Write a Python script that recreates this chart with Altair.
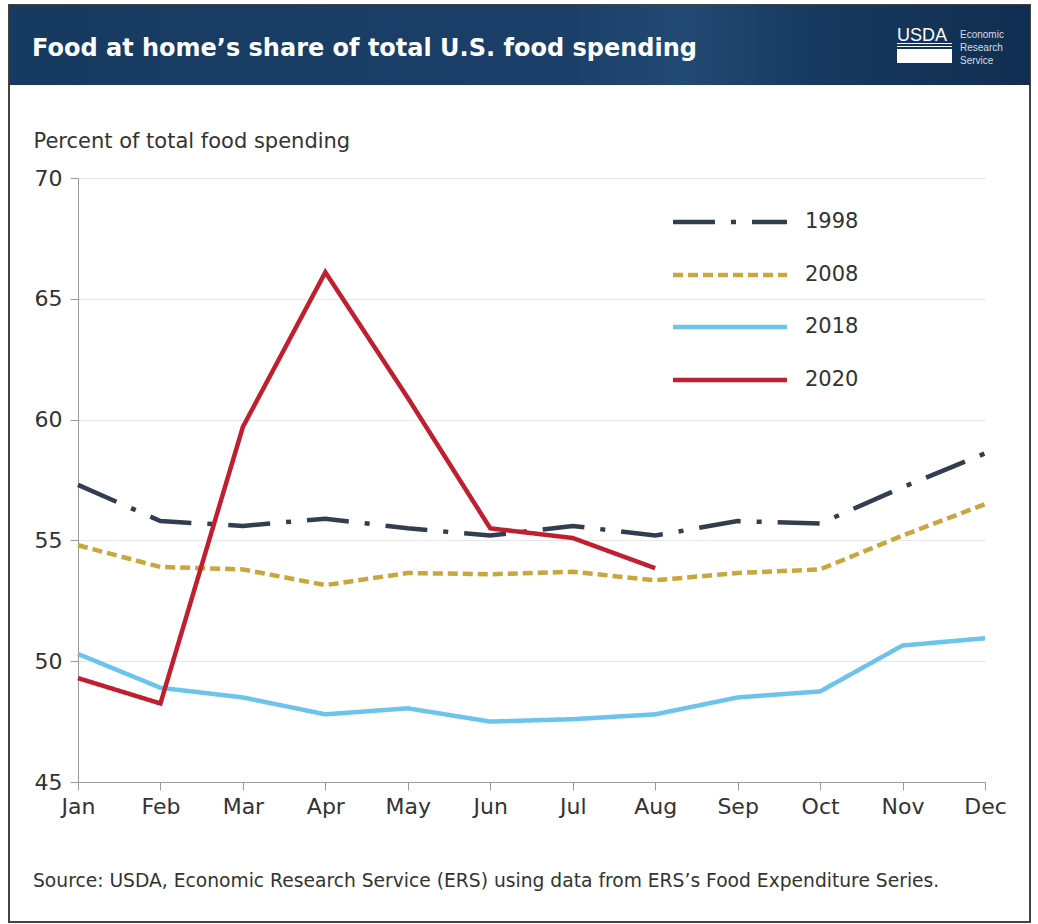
import altair as alt
import pandas as pd

months = ["Jan", "Feb", "Mar", "Apr", "May", "Jun", "Jul", "Aug", "Sep", "Oct", "Nov", "Dec"]
years = ["1998", "2008", "2018", "2020"]
share_1998 = [57.3, 55.8, 55.6, 55.9, 55.5, 55.2, 55.6, 55.2, 55.8, 55.7, 57.2, 58.6]
share_2008 = [54.8, 53.9, 53.8, 53.15, 53.65, 53.6, 53.7, 53.35, 53.65, 53.8, 55.2, 56.5]
share_2018 = [50.3, 48.9, 48.5, 47.8, 48.05, 47.5, 47.6, 47.8, 48.5, 48.75, 50.65, 50.95]
share_2020 = [49.3, 48.25, 59.7, 66.1, 60.9, 55.5, 55.1, 53.85]
y_ticks = [45, 50, 55, 60, 65, 70]

colors = ["#323e50", "#c9a63e", "#6cc3ec", "#c01f2f"]
dashes = [[42, 16, 5, 16], [10, 5], [1, 0], [1, 0]]

title_text = "Food at home\u2019s share of total U.S. food spending"
y_title = "Percent of total food spending"
source_text = "Source: USDA, Economic Research Service (ERS) using data from ERS\u2019s Food Expenditure Series."

FONT = "DejaVu Sans"

rows = []
for yr, vals in zip(years, [share_1998, share_2008, share_2018, share_2020]):
    for m, v in zip(months, vals):
        rows.append({"month": m, "year": yr, "value": v})
df = pd.DataFrame(rows)

dummy = pd.DataFrame({"k": [0]})

# Frame and header band
frame = alt.Chart(dummy).mark_rect(filled=False, stroke="#444444", strokeWidth=2).encode(
    x=alt.value(-69), x2=alt.value(952), y=alt.value(-173), y2=alt.value(744)
)
header = alt.Chart(dummy).mark_rect(
    fill=alt.Gradient(
        gradient="linear",
        stops=[
            alt.GradientStop(color="#173a60", offset=0),
            alt.GradientStop(color="#1b3f69", offset=0.55),
            alt.GradientStop(color="#234a74", offset=0.66),
            alt.GradientStop(color="#173a60", offset=0.78),
            alt.GradientStop(color="#102e50", offset=1),
        ],
        x1=0, x2=1, y1=0, y2=0,
    )
).encode(x=alt.value(-69), x2=alt.value(952), y=alt.value(-173), y2=alt.value(-93))

title = alt.Chart(dummy).mark_text(
    align="left", baseline="alphabetic", font=FONT, fontSize=24, fontWeight="bold", color="white"
).encode(x=alt.value(-46), y=alt.value(-122), text=alt.value(title_text))

logo_usda = alt.Chart(dummy).mark_text(
    align="left", baseline="alphabetic", font="Liberation Sans", fontSize=18, color="white"
).encode(x=alt.value(819), y=alt.value(-137), text=alt.value("USDA"))
logo_lines = [
    alt.Chart(dummy).mark_rect(fill="white").encode(
        x=alt.value(819), x2=alt.value(874), y=alt.value(y0), y2=alt.value(y1)
    )
    for (y0, y1) in [(-135, -134), (-132, -131), (-129, -115)]
]
logo_words = [
    alt.Chart(dummy).mark_text(
        align="left", baseline="alphabetic", font="Liberation Sans", fontSize=10, color="#d5dde8"
    ).encode(x=alt.value(882), y=alt.value(yy), text=alt.value(w))
    for w, yy in [("Economic", -140), ("Research", -127), ("Service", -114)]
]

lines = alt.Chart(df).mark_line(strokeWidth=4.5, strokeCap="butt", strokeJoin="miter").encode(
    x=alt.X(
        "month:N",
        sort=months,
        scale=alt.Scale(type="point", padding=0),
        axis=alt.Axis(
            title=None, labelAngle=0, tickSize=8, labelPadding=6, domainColor="#9a9a9a",
            tickColor="#9a9a9a", labelFontSize=22, labelColor="#333333", labelFont=FONT, grid=False,
        ),
    ),
    y=alt.Y(
        "value:Q",
        scale=alt.Scale(domain=[45, 70], nice=False, zero=False),
        axis=alt.Axis(
            values=y_ticks, title=y_title, titleAngle=0, titleAlign="left", titleBaseline="alphabetic",
            titleX=-45, titleY=-31, titleFontSize=21, titleFontWeight="normal", titleColor="#333333",
            titleFont=FONT, labelFont=FONT, labelFontSize=22, labelColor="#333333", tickSize=8,
            labelPadding=8, domainColor="#9a9a9a", tickColor="#9a9a9a", grid=True, gridColor="#e6e6e6",
        ),
    ),
    color=alt.Color("year:N", scale=alt.Scale(domain=years, range=colors), legend=None),
    strokeDash=alt.StrokeDash("year:N", scale=alt.Scale(domain=years, range=dashes), legend=None),
)

legend_y = [44, 97, 149, 202]
legend_layers = []
for yr, c, d, ly in zip(years, colors, dashes, legend_y):
    legend_layers.append(
        alt.Chart(dummy).mark_rule(color=c, strokeWidth=4.5, strokeDash=d, strokeCap="butt").encode(
            x=alt.value(595), x2=alt.value(709), y=alt.value(ly)
        )
    )
    legend_layers.append(
        alt.Chart(dummy).mark_text(
            align="left", baseline="middle", font=FONT, fontSize=21, color="#333333"
        ).encode(x=alt.value(727), y=alt.value(ly), text=alt.value(yr))
    )

source = alt.Chart(dummy).mark_text(
    align="left", baseline="alphabetic", font=FONT, fontSize=18.7, color="#333333"
).encode(x=alt.value(-45), y=alt.value(709), text=alt.value(source_text))

chart = alt.layer(
    frame, header, title, logo_usda, *logo_lines, *logo_words, lines, *legend_layers, source
).properties(
    width=907,
    height=604,
    autosize=alt.AutoSizeParams(type="none"),
    padding={"left": 78, "top": 178, "right": 53, "bottom": 142},
    background="white",
).configure_view(stroke=None)

chart.save("out.html", embed_options={"renderer": "svg", "actions": False})
